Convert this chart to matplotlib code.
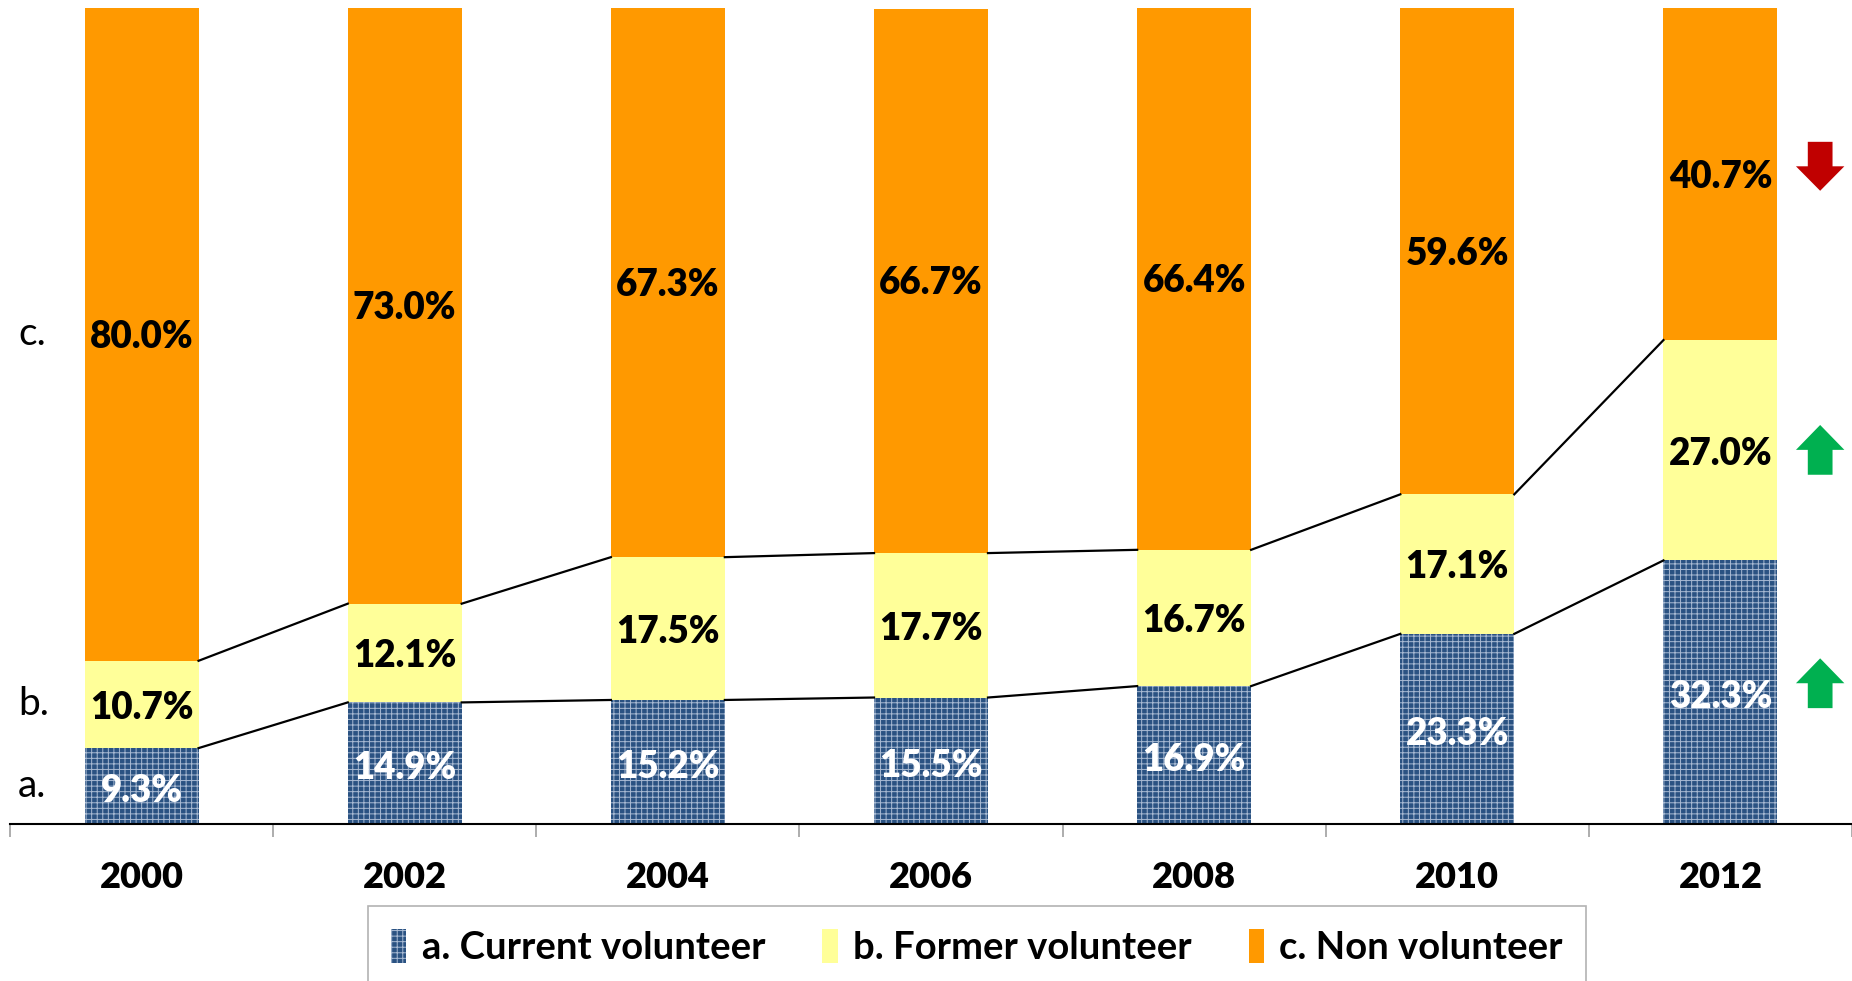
import matplotlib
matplotlib.use("Agg")
import matplotlib.pyplot as plt
from matplotlib.patches import Polygon, Rectangle
import numpy as np

years = ["2000", "2002", "2004", "2006", "2008", "2010", "2012"]
current = [9.3, 14.9, 15.2, 15.5, 16.9, 23.3, 32.3]
former = [10.7, 12.1, 17.5, 17.7, 16.7, 17.1, 27.0]
non = [80.0, 73.0, 67.3, 66.7, 66.4, 59.6, 40.7]
series_names = ["a. Current volunteer", "b. Former volunteer", "c. Non volunteer"]
side_letters = ["a.", "b.", "c."]

c_cur = "#2a5282"
c_hatch = "#a8bad3"
c_for = "#FFFF99"
c_non = "#FF9900"

plt.rcParams["hatch.linewidth"] = 0.7
W, H = 1852, 981
fig = plt.figure(figsize=(W / 100, H / 100), dpi=100)
ax = fig.add_axes([10 / W, 1 - 824 / H, 1 - 10 / W, 816 / H])

x = np.arange(len(years))
bw = 0.433
cur = np.array(current)
frm = np.array(former)
nn = np.array(non)

ax.bar(x, cur, bw, color=c_cur, edgecolor=c_hatch, linewidth=0, hatch="+++", zorder=2)
ax.bar(x, frm, bw, bottom=cur, color=c_for, linewidth=0, zorder=2)
ax.bar(x, nn, bw, bottom=cur + frm, color=c_non, linewidth=0, zorder=2)

# series lines
for tops in (cur, cur + frm):
    for i in range(len(x) - 1):
        ax.plot([x[i] + bw / 2, x[i + 1] - bw / 2], [tops[i], tops[i + 1]],
                color="black", lw=1.6, zorder=3)

FAM = ["Lato", "DejaVu Sans"]
lab_font = dict(family=FAM, fontsize=26.5, fontweight="heavy")
for i in range(len(x)):
    ax.text(x[i], cur[i] / 2 - 0.6, f"{current[i]:.1f}%", ha="center", va="center", color="white", **lab_font)
    ax.text(x[i], cur[i] + frm[i] / 2 - 0.4, f"{former[i]:.1f}%", ha="center", va="center", color="black", **lab_font)
    ax.text(x[i], cur[i] + frm[i] + nn[i] / 2 - 0.3, f"{non[i]:.1f}%", ha="center", va="center", color="black", **lab_font)

# side letters aligned with 2000 segments
mids = [cur[0] / 2, cur[0] + frm[0] / 2, cur[0] + frm[0] + nn[0] / 2]
for s, m in zip(side_letters, mids):
    ax.text(-0.47, m, s, ha="left", va="center", fontsize=28, family=FAM, color="black")

# arrows
def arrow(xc, ytop, ybot, up, color):
    hw = 0.092
    sw = 0.047
    hh = (ytop - ybot) * 0.5
    if up:
        pts = [(xc, ytop), (xc + hw, ytop - hh), (xc + sw, ytop - hh), (xc + sw, ybot),
               (xc - sw, ybot), (xc - sw, ytop - hh), (xc - hw, ytop - hh)]
    else:
        pts = [(xc, ybot), (xc + hw, ybot + hh), (xc + sw, ybot + hh), (xc + sw, ytop),
               (xc - sw, ytop), (xc - sw, ybot + hh), (xc - hw, ybot + hh)]
    ax.add_patch(Polygon(pts, closed=True, color=color, lw=0, zorder=4, clip_on=False))

arrow(6.379, 83.6, 77.6, False, "#C00000")
arrow(6.379, 48.9, 42.8, True, "#00B050")
arrow(6.379, 20.3, 14.2, True, "#00B050")

ax.set_xlim(-0.5, 6.5 - 2 / 263.5)
ax.set_ylim(0, 100)
ax.set_yticks([])
for s in ["top", "right", "left"]:
    ax.spines[s].set_visible(False)
ax.spines["bottom"].set_linewidth(1.5)
ax.set_xticks(x)
ax.set_xticklabels(years, fontsize=26, fontweight="heavy", family=FAM)
ax.tick_params(axis="x", which="major", length=0, pad=27)
ax.set_xticks(np.arange(-0.5, 6.6, 1.0), minor=True)
ax.tick_params(axis="x", which="minor", length=9.4, width=1.2, color="#a0a0a0", direction="out")

handles = [Rectangle((0, 0), 1, 1, facecolor=c_cur, edgecolor=c_hatch, lw=0, hatch="+++"),
           Rectangle((0, 0), 1, 1, facecolor=c_for, lw=0),
           Rectangle((0, 0), 1, 1, facecolor=c_non, lw=0)]
leg = fig.legend(handles, series_names, loc="upper center", bbox_to_anchor=(977 / W, 1 - 906 / H),
                 ncol=3, frameon=True, fancybox=False, edgecolor="#a0a0a0",
                 prop=dict(family=FAM, size=27.5, weight="bold"),
                 handlelength=0.4, handleheight=1.0, handletextpad=0.4, columnspacing=1.5,
                 borderpad=0.6, borderaxespad=0)
leg.get_frame().set_linewidth(1.2)

fig.savefig("out.png", dpi=100)
